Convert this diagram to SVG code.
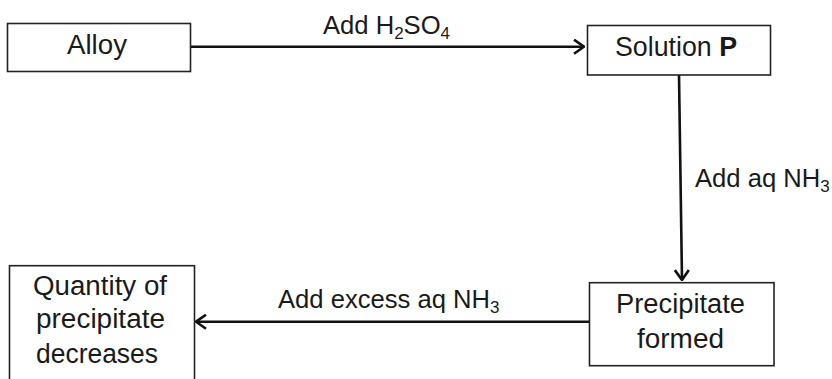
<svg xmlns="http://www.w3.org/2000/svg" width="832" height="379" viewBox="0 0 832 379">
<defs>
<style>
.box{fill:#fff;stroke:#222;stroke-width:1.6}
.t{font-family:"Liberation Sans",Arial,sans-serif;font-size:27px;fill:#1a1a1a}
.lbl{font-family:"Liberation Sans",Arial,sans-serif;font-size:25.6px;fill:#1a1a1a}
.sub{font-size:17px}
.conn{stroke:#111;stroke-width:2.6;fill:none}
</style>
<marker id="ah" viewBox="0 0 12 16" refX="11" refY="8" markerWidth="12" markerHeight="16" markerUnits="userSpaceOnUse" orient="auto">
<path d="M1,1 L11,8 L1,15" fill="none" stroke="#111" stroke-width="2.6"/>
</marker>
</defs>
<rect width="832" height="379" fill="#fff"/>
<g id="connectors">
<line class="conn" x1="190" y1="46.7" x2="584" y2="46.7" marker-end="url(#ah)"/>
<line class="conn" x1="679" y1="75" x2="682" y2="280" marker-end="url(#ah)"/>
<line class="conn" x1="589" y1="321.7" x2="196" y2="321.7" marker-end="url(#ah)"/>
<text class="lbl" x="323" y="34.3">Add H<tspan class="sub" baseline-shift="-5">2</tspan>SO<tspan class="sub" baseline-shift="-5">4</tspan></text>
<text class="lbl" x="695" y="186.7">Add aq NH<tspan class="sub" baseline-shift="-5">3</tspan></text>
<text class="lbl" x="278" y="308.3">Add excess aq NH<tspan class="sub" baseline-shift="-5">3</tspan></text>
</g>
<g id="alloy">
<rect class="box" x="7.5" y="23.5" width="183" height="48"/>
<text class="t" x="67" y="54.3" textLength="60" lengthAdjust="spacingAndGlyphs">Alloy</text>
</g>
<g id="solutionP">
<rect class="box" x="587.5" y="25.5" width="183" height="49.5"/>
<text class="t" x="615" y="55.7" textLength="122" lengthAdjust="spacingAndGlyphs">Solution <tspan font-weight="bold">P</tspan></text>
</g>
<g id="precipitate">
<rect class="box" x="589.5" y="282.7" width="184.5" height="83"/>
<text class="t" x="616" y="313.3" textLength="129" lengthAdjust="spacingAndGlyphs">Precipitate</text>
<text class="t" x="637" y="348.3" textLength="87" lengthAdjust="spacingAndGlyphs">formed</text>
</g>
<g id="quantity">
<rect class="box" x="9.5" y="265.7" width="185" height="130"/>
<text class="t" x="33" y="295" textLength="134" lengthAdjust="spacingAndGlyphs">Quantity of</text>
<text class="t" x="36" y="328" textLength="129" lengthAdjust="spacingAndGlyphs">precipitate</text>
<text class="t" x="36" y="363.3" textLength="122" lengthAdjust="spacingAndGlyphs">decreases</text>
</g>
</svg>
